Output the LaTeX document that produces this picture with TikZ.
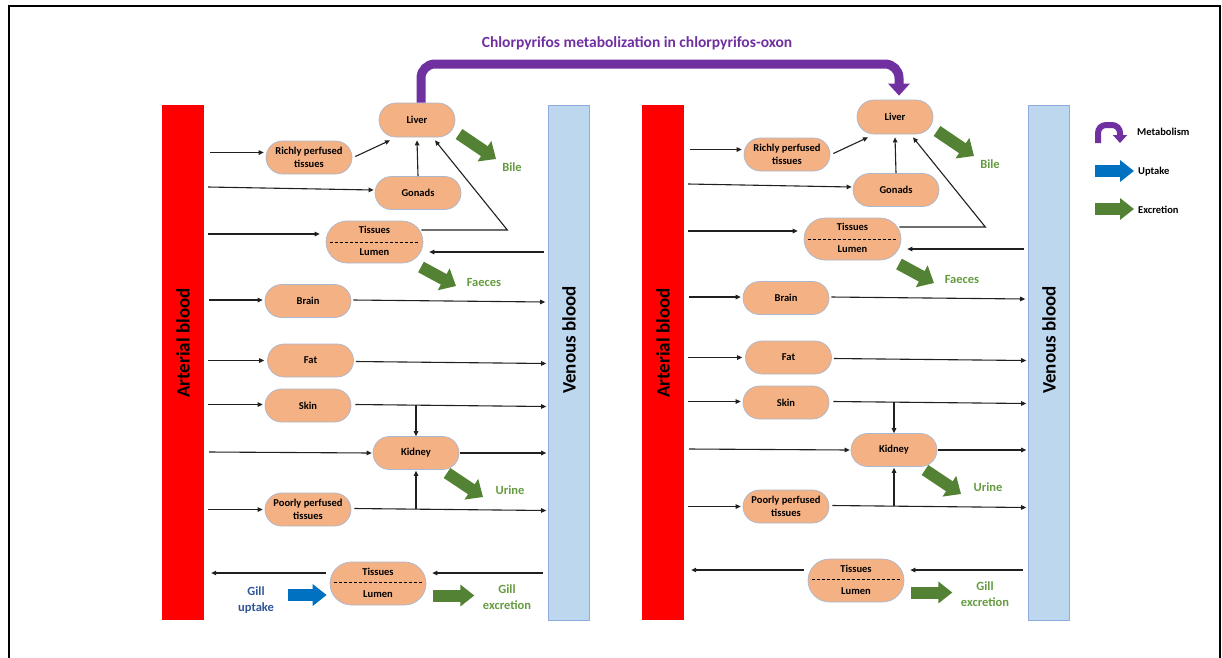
\documentclass[tikz,border=0pt]{standalone}
\usepackage{fontspec}
\setmainfont{Carlito}
\usetikzlibrary{arrows.meta,calc,shapes.misc}
\definecolor{organfill}{HTML}{F4B183}
\definecolor{organline}{HTML}{A9B8CF}
\definecolor{venousfill}{HTML}{BDD7EE}
\definecolor{venline}{HTML}{8FAADC}
\definecolor{exgreen}{HTML}{548235}
\definecolor{labgreen}{HTML}{659B40}
\definecolor{upblue}{HTML}{0070C0}
\definecolor{labblue}{HTML}{2F5597}
\definecolor{metpurple}{HTML}{7030A0}
\definecolor{conncol}{HTML}{202020}
\begin{document}
\begin{tikzpicture}[x=1pt,y=-1pt,
  organ/.style={rounded rectangle, draw=organline, fill=organfill, line width=0.7pt,
    minimum width=88pt, minimum height=33pt, inner sep=1pt, align=center,
    font=\bfseries\fontsize{10.5}{12.5}\selectfont},
  innertext/.style={inner sep=0pt, font=\bfseries\fontsize{10.5}{12}\selectfont},
  artbar/.style={fill=red, minimum width=42pt, minimum height=515pt, inner sep=0pt},
  venbar/.style={fill=venousfill, draw=venline, line width=0.6pt, minimum width=41pt, minimum height=515pt, inner sep=0pt},
  barlab/.style={inner sep=0pt, font=\bfseries\fontsize{19}{22}\selectfont},
  conn/.style={draw=conncol, line width=1.1pt, -{Triangle[length=5pt,width=4.5pt]}},
  sep/.style={draw=black, line width=0.8pt, dash pattern=on 3pt off 2pt},
  excarrow/.style={draw=exgreen, line width=12pt, -{Triangle[length=14pt,width=24pt]}},
  hexc/.style={draw=exgreen, line width=12pt, -{Triangle[length=14pt,width=21pt]}},
  upt/.style={draw=upblue, line width=12pt, -{Triangle[length=14pt,width=21pt]}},
  metarrow/.style={draw=metpurple, line width=9pt, rounded corners=14pt, -{Triangle[length=12pt,width=21pt]}},
  greenlab/.style={text=labgreen, inner sep=0pt, align=center, font=\bfseries\fontsize{12.5}{15.5}\selectfont},
  bluelab/.style={text=labblue, inner sep=0pt, align=center, font=\bfseries\fontsize{12.5}{15.5}\selectfont},
  leglab/.style={anchor=west, inner sep=0pt, font=\bfseries\fontsize{10.5}{12}\selectfont},
  titlelab/.style={text=metpurple, inner sep=0pt, font=\bfseries\fontsize{15.5}{18}\selectfont}
]
\useasboundingbox (0,0) rectangle (1222,657);
% frame
\draw[line width=1.6pt] (9,680) -- (9,6) -- (1220,6) -- (1220,680);

\node[titlelab] (title) at (637,43) {Chlorpyrifos metabolization in chlorpyrifos-oxon};

\foreach \p/\dx/\dy/\bx in {L/0/0/0,R/478/-3/480}{
  \begin{scope}[shift={(\bx,0)}]
    \node[artbar] (\p art) at (183,362.5) {};
    \node[venbar] (\p ven) at (569,362.5) {};
    \node[barlab, rotate=90] (\p artlab) at (183,343) {Arterial blood};
    \node[barlab, rotate=90] (\p venlab) at (569,340) {Venous blood};
  \end{scope}
  \begin{scope}[shift={(\dx,\dy)}]
    \node[organ, minimum width=78pt, minimum height=34pt] (\p liver) at (417,120) {Liver};
    \node[organ] (\p rich) at (309,157.5) {Richly perfused\\tissues};
    \node[organ] (\p gon) at (418,193) {Gonads};
    \node[organ, minimum width=99pt, minimum height=42pt] (\p tis) at (374.5,242) {};
    \node[innertext] (\p tisT) at (374.5,230) {Tissues};
    \node[innertext] (\p tisB) at (374.5,252.5) {Lumen};
    \node[organ] (\p brain) at (308,301) {Brain};
    \node[organ] (\p fat) at (310.5,360.5) {Fat};
    \node[organ] (\p skin) at (308,405.5) {Skin};
    \node[organ] (\p kid) at (416,453) {Kidney};
    \node[organ] (\p poor) at (308,509.5) {Poorly perfused\\tissues};
    \node[organ, minimum width=98pt, minimum height=43pt] (\p gill) at (378,583.5) {};
    \node[innertext] (\p gillT) at (378,571.5) {Tissues};
    \node[innertext] (\p gillB) at (378,594) {Lumen};
    \node[greenlab] (\p bile) at (512,167) {Bile};
    \node[greenlab] (\p faeces) at (484,282) {Faeces};
    \node[greenlab] (\p urine) at (510,490) {Urine};
    \node[greenlab] (\p gexc) at (507,597) {Gill\\excretion};
  \end{scope}
  % separators
  \draw[sep] ($(\p tis.west)+(4,0)$) -- ($(\p tis.east)+(-4,0)$);
  \draw[sep] ($(\p gill.west)+(4,-1)$) -- ($(\p gill.east)+(-4,-1)$);
  % connectors upper
  \draw[conn] ($(\p art.east |- \p rich.west)+(6,-5)$) -- ($(\p rich.west)+(-2,-5)$);
  \draw[conn] ($(\p rich.east)+(3,-1)$) -- ($(\p liver.south)+(-27,3)$);
  \draw[conn] (\p gon.north) -- ($(\p liver.south)+(0,3)$);
  \draw[conn] ($(\p art.east |- \p gon.west)+(4,-6)$) -- ($(\p gon.west)+(-1,-3)$);
  \draw[conn] ($(\p art.east |- \p tis.west)+(4,-8)$) -- ($(\p tis.west)+(-6,-8)$);
  \coordinate (\p corner) at ($(\p tis.east)+(84,-12)$);
  \draw[conn] ($(\p tis.east)+(-2,-12)$) -- (\p corner) -- ($(\p liver.south)+(18,3)$);
  \draw[conn] ($(\p ven.west |- \p tis.east)+(-4,10)$) -- ($(\p tis.east)+(6,10)$);
  % brain
  \draw[conn] ($(\p art.east |- \p brain.west)+(5,-1)$) -- ($(\p brain.west)+(-2,-1)$);
  \draw[conn] ($(\p brain.east)+(2,-1)$) -- ($(\p ven.west |- \p brain.east)+(-3,1)$);
  % fat
  \draw[conn] ($(\p art.east |- \p fat.west)+(4,0)$) -- ($(\p fat.west)+(-3,0)$);
  \draw[conn] ($(\p fat.east)+(2,1)$) -- ($(\p ven.west |- \p fat.east)+(-2,3)$);
  % skin
  \draw[conn] ($(\p art.east |- \p skin.west)+(4,-1)$) -- ($(\p skin.west)+(-2,-1)$);
  \draw[conn] ($(\p skin.east)+(4,-1)$) -- ($(\p ven.west |- \p skin.east)+(-2,1)$);
  \draw[conn] ($(\p kid.north |- \p skin.east)+(0,-0.5)$) -- (\p kid.north);
  % kidney
  \draw[conn] ($(\p art.east |- \p kid.west)+(5,-1)$) -- ($(\p kid.west)+(-1,0)$);
  \draw[conn] ($(\p kid.east)+(1,0)$) -- ($(\p ven.west |- \p kid.east)+(-2,0)$);
  % poorly perfused
  \draw[conn] ($(\p art.east |- \p poor.west)+(4,0)$) -- ($(\p poor.west)+(-2,0)$);
  \draw[conn] ($(\p poor.east)+(3,-1)$) -- ($(\p ven.west |- \p poor.east)+(-2,1)$);
  \draw[conn] ($(\p kid.south |- \p poor.east)+(0,-1)$) -- ($(\p kid.south)+(0,1)$);
  % gill
  \draw[conn] ($(\p ven.west |- \p gill.east)+(-5,-10.5)$) -- ($(\p gill.east)+(6,-10.5)$);
  \draw[conn] ($(\p gill.west)+(-4,-10.5)$) -- ($(\p art.east |- \p gill.west)+(7,-10.5)$);
  % excretion arrows
  \draw[excarrow] ([shift={(42,14)}]\p liver.center) -- ++(37,25);
  \draw[excarrow] ([shift={(46.5,25)}]\p tis.center) -- ++(35,19);
  \draw[excarrow] ([shift={(31,20)}]\p kid.center) -- ++(36,24);
  \draw[hexc] ([shift={(7,12)}]\p gill.east) -- ++(41,0);
}

% gill uptake (left model only)
\node[bluelab] (gup) at (256,600) {Gill\\uptake};
\coordinate (upS) at (288,595);
\draw[upt] (upS) -- ([shift={(-3,11.5)}]Lgill.west);

% metabolism arrow between the two livers
\coordinate (mL) at ($(Lliver.north)+(4,0)$);
\coordinate (mR) at ($(Rliver.north)+(4,-4)$);
\coordinate (mTop) at (637,64);
\draw[metarrow] (mL) |- (mTop) -| (mR);

% legend
\coordinate (lgMa) at (1098,143);
\coordinate (lgMb) at (1120,143);
\draw[draw=metpurple, line width=6pt, rounded corners=8pt, -{Triangle[length=8pt,width=14pt]}]
  (lgMa) -- (1098,125) -- (1120,125) -- (lgMb);
\node[leglab] (lgMet) at (1137,132) {Metabolism};
\coordinate (lgUa) at (1095,171);
\coordinate (lgUb) at (1134,171);
\draw[upt] (lgUa) -- (lgUb);
\node[leglab] (lgUp) at (1138,172) {Uptake};
\coordinate (lgEa) at (1095,209);
\coordinate (lgEb) at (1134,209);
\draw[hexc] (lgEa) -- (lgEb);
\node[leglab] (lgEx) at (1138,210) {Excretion};
\end{tikzpicture}
\end{document}
